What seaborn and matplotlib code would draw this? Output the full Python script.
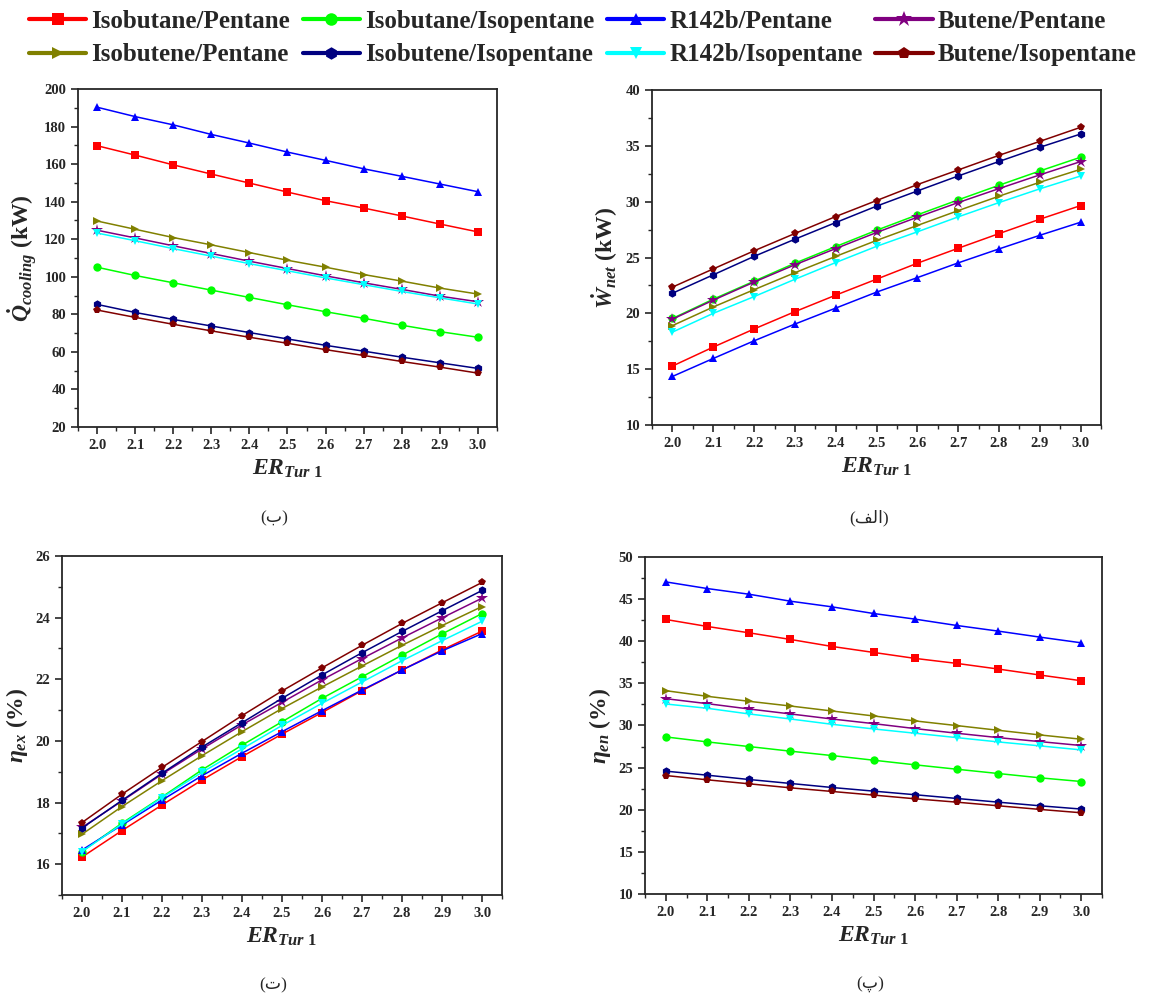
import numpy as np
import pandas as pd
import seaborn as sns
import matplotlib.pyplot as plt
from matplotlib.ticker import MultipleLocator

# expansion ratio of turbine 1
er = [2.0, 2.1, 2.2, 2.3, 2.4, 2.5, 2.6, 2.7, 2.8, 2.9, 3.0]

pairs = ['Isobutane/Pentane', 'Isobutane/Isopentane', 'R142b/Pentane', 'Butene/Pentane',
         'Isobutene/Pentane', 'Isobutene/Isopentane', 'R142b/Isopentane', 'Butene/Isopentane']
colors = ['#FF0000', '#00FF00', '#0000FF', '#800080', '#808000', '#000080', '#00FFFF', '#800000']
marks = ['s', 'o', '^', '*', '>', 'h', 'v', 'p']

q_cooling = {
    'Isobutane/Pentane':    [169.8, 164.8, 159.6, 154.7, 149.9, 145.1, 140.5, 136.6, 132.4, 128.1, 123.9],
    'Isobutane/Isopentane': [105.1, 100.7, 96.8, 92.9, 89.0, 85.1, 81.4, 77.9, 74.2, 70.8, 67.8],
    'R142b/Pentane':        [190.3, 185.3, 180.9, 175.8, 171.2, 166.4, 162.0, 157.5, 153.5, 149.4, 145.3],
    'Butene/Pentane':       [124.8, 120.7, 116.5, 112.4, 108.3, 104.4, 100.5, 96.8, 93.3, 89.7, 86.7],
    'Isobutene/Pentane':    [129.7, 125.3, 120.9, 117.0, 112.9, 108.8, 105.1, 101.2, 97.7, 94.0, 90.8],
    'Isobutene/Isopentane': [85.3, 81.0, 77.3, 73.8, 70.3, 66.9, 63.5, 60.4, 57.2, 54.2, 51.2],
    'R142b/Isopentane':     [123.3, 119.2, 115.0, 111.0, 107.0, 103.2, 99.4, 95.8, 92.2, 88.8, 85.5],
    'Butene/Isopentane':    [82.3, 78.4, 74.7, 71.2, 67.8, 64.6, 61.2, 58.1, 54.9, 51.9, 48.7],
}

w_net = {
    'Isobutane/Pentane':    [15.28, 16.98, 18.60, 20.15, 21.63, 23.06, 24.49, 25.83, 27.14, 28.43, 29.65],
    'Isobutane/Isopentane': [19.54, 21.27, 22.88, 24.49, 25.98, 27.44, 28.82, 30.16, 31.47, 32.75, 33.98],
    'R142b/Pentane':        [14.35, 15.96, 17.54, 19.04, 20.47, 21.90, 23.20, 24.52, 25.77, 26.99, 28.16],
    'Butene/Pentane':       [19.48, 21.18, 22.80, 24.35, 25.80, 27.24, 28.61, 29.92, 31.17, 32.40, 33.59],
    'Isobutene/Pentane':    [18.90, 20.57, 22.12, 23.64, 25.10, 26.53, 27.87, 29.20, 30.49, 31.74, 32.90],
    'Isobutene/Isopentane': [21.80, 23.45, 25.10, 26.64, 28.13, 29.60, 30.96, 32.30, 33.60, 34.87, 36.06],
    'R142b/Isopentane':     [18.32, 20.00, 21.50, 23.05, 24.55, 26.00, 27.30, 28.64, 29.92, 31.15, 32.30],
    'Butene/Isopentane':    [22.35, 23.98, 25.60, 27.15, 28.67, 30.10, 31.53, 32.84, 34.15, 35.40, 36.66],
}

eta_ex = {
    'Isobutane/Pentane':    [16.23, 17.09, 17.92, 18.73, 19.49, 20.22, 20.92, 21.63, 22.30, 22.95, 23.56],
    'Isobutane/Isopentane': [16.41, 17.33, 18.18, 19.06, 19.86, 20.62, 21.38, 22.08, 22.78, 23.47, 24.13],
    'R142b/Pentane':        [16.46, 17.27, 18.08, 18.87, 19.60, 20.30, 20.98, 21.65, 22.30, 22.92, 23.48],
    'Butene/Pentane':       [17.19, 18.05, 18.92, 19.74, 20.52, 21.25, 21.98, 22.67, 23.34, 23.99, 24.63],
    'Isobutene/Pentane':    [16.97, 17.87, 18.71, 19.52, 20.30, 21.05, 21.75, 22.43, 23.10, 23.74, 24.36],
    'Isobutene/Isopentane': [17.17, 18.07, 18.95, 19.80, 20.59, 21.38, 22.14, 22.86, 23.55, 24.22, 24.88],
    'R142b/Isopentane':     [16.41, 17.30, 18.16, 18.98, 19.74, 20.50, 21.22, 21.91, 22.60, 23.25, 23.88],
    'Butene/Isopentane':    [17.35, 18.27, 19.14, 19.98, 20.82, 21.62, 22.37, 23.10, 23.81, 24.48, 25.14],
}

eta_en = {
    'Isobutane/Pentane':    [42.58, 41.75, 41.00, 40.21, 39.38, 38.67, 37.96, 37.37, 36.70, 35.99, 35.31],
    'Isobutane/Isopentane': [28.64, 28.05, 27.50, 26.95, 26.43, 25.88, 25.33, 24.81, 24.30, 23.79, 23.35],
    'R142b/Pentane':        [47.04, 46.25, 45.58, 44.75, 44.08, 43.29, 42.62, 41.87, 41.20, 40.49, 39.81],
    'Butene/Pentane':       [33.18, 32.59, 31.96, 31.37, 30.77, 30.22, 29.63, 29.08, 28.56, 28.09, 27.62],
    'Isobutene/Pentane':    [34.13, 33.46, 32.87, 32.31, 31.72, 31.13, 30.54, 29.99, 29.43, 28.88, 28.37],
    'Isobutene/Isopentane': [24.58, 24.10, 23.59, 23.12, 22.64, 22.21, 21.78, 21.34, 20.90, 20.47, 20.08],
    'R142b/Isopentane':     [32.55, 32.04, 31.37, 30.77, 30.14, 29.59, 29.08, 28.56, 28.05, 27.58, 27.10],
    'Butene/Isopentane':    [24.06, 23.55, 23.08, 22.60, 22.17, 21.74, 21.30, 20.90, 20.47, 20.04, 19.64],
}

sns.set_style('ticks')
plt.rcParams['font.family'] = ['Liberation Serif', 'DejaVu Sans']
plt.rcParams['font.weight'] = 'bold'
plt.rcParams['axes.labelweight'] = 'bold'
plt.rcParams['mathtext.fontset'] = 'custom'
plt.rcParams['mathtext.rm'] = 'Liberation Serif:bold'
plt.rcParams['mathtext.it'] = 'Liberation Serif:italic:bold'
plt.rcParams['mathtext.bf'] = 'Liberation Serif:bold'

palette = dict(zip(pairs, colors))
markers = dict(zip(pairs, marks))


def to_long(d):
    rows = []
    for p in pairs:
        for x, v in zip(er, d[p]):
            rows.append((p, x, v))
    return pd.DataFrame(rows, columns=['pair', 'ER', 'val'])


fig = plt.figure(figsize=(11.52, 10.01), dpi=100)

panels = [
    (q_cooling, [0.0677, 0.5734, 0.3637, 0.3377], (20, 200), 20, 10,
     r'$\dot{Q}_{cooling}$ (kW)', '(\u0628)', (0.238, 0.4825)),
    (w_net, [0.566, 0.5754, 0.3898, 0.3347], (10, 40), 5, 2.5,
     r'$\dot{W}_{net}$ (kW)', '(\uFED2\uFEDF\uFE8D)', (0.754, 0.4825)),
    (eta_ex, [0.0538, 0.1059, 0.382, 0.3387], (15, 26), 2, 1,
     r'$\eta_{ex}$ (%)', '(\u062A)', (0.237, 0.016)),
    (eta_en, [0.5599, 0.1069, 0.3967, 0.3367], (10, 50), 5, 2.5,
     r'$\eta_{en}$ (%)', '(\u067E)', (0.755, 0.016)),
]

for d, rect, ylim, major, minor, ylab, tag, tagpos in panels:
    ax = fig.add_axes(rect)
    sns.lineplot(data=to_long(d), x='ER', y='val', hue='pair', style='pair',
                 hue_order=pairs, style_order=pairs, palette=palette,
                 markers=markers, dashes=False, markersize=6,
                 markeredgewidth=0, linewidth=1.1, legend=False, ax=ax)
    # stars look tiny at the same size, bump them up
    for ln in ax.lines:
        if ln.get_marker() == '*':
            ln.set_markersize(9)
    ax.set_xlim(1.95, 3.05)
    ax.set_ylim(*ylim)
    ax.xaxis.set_major_locator(MultipleLocator(0.1))
    ax.xaxis.set_minor_locator(MultipleLocator(0.05))
    ax.yaxis.set_major_locator(MultipleLocator(major))
    ax.yaxis.set_minor_locator(MultipleLocator(minor))
    ax.xaxis.set_major_formatter(plt.FormatStrFormatter('%.1f'))
    ax.tick_params(which='major', direction='out', length=5, width=1.2, labelsize=10.5)
    ax.tick_params(which='minor', direction='out', length=3, width=1)
    for s in ax.spines.values():
        s.set_visible(True)
        s.set_linewidth(1.3)
    for lab in ax.get_xticklabels() + ax.get_yticklabels():
        lab.set_fontweight('bold')
    ax.set_xlabel(r'$ER_{Tur\ 1}$', fontsize=17, labelpad=4)
    ax.set_ylabel(ylab, fontsize=17, labelpad=4)
    fig.text(tagpos[0], tagpos[1], tag, ha='center', va='center', fontsize=12.5,
             family=['Liberation Serif', 'DejaVu Sans'], fontweight='normal')

# legend across the top, filled column by column
leg_order = ['Isobutane/Pentane', 'Isobutene/Pentane', 'Isobutane/Isopentane', 'Isobutene/Isopentane',
             'R142b/Pentane', 'R142b/Isopentane', 'Butene/Pentane', 'Butene/Isopentane']
handles = [plt.Line2D([], [], color=palette[p], marker=markers[p],
                      markersize=12 if markers[p] == '*' else 9,
                      markeredgewidth=0, linewidth=3) for p in leg_order]
fig.legend(handles, leg_order, loc='upper left', bbox_to_anchor=(0.012, 1.005), ncol=4,
           frameon=False, handlelength=2.3, handletextpad=0.2,
           columnspacing=0.5, labelspacing=0.42, borderaxespad=0.2,
           prop={'family': 'Liberation Serif', 'weight': 'bold', 'size': 18})

fig.savefig('out.png', dpi=100)
